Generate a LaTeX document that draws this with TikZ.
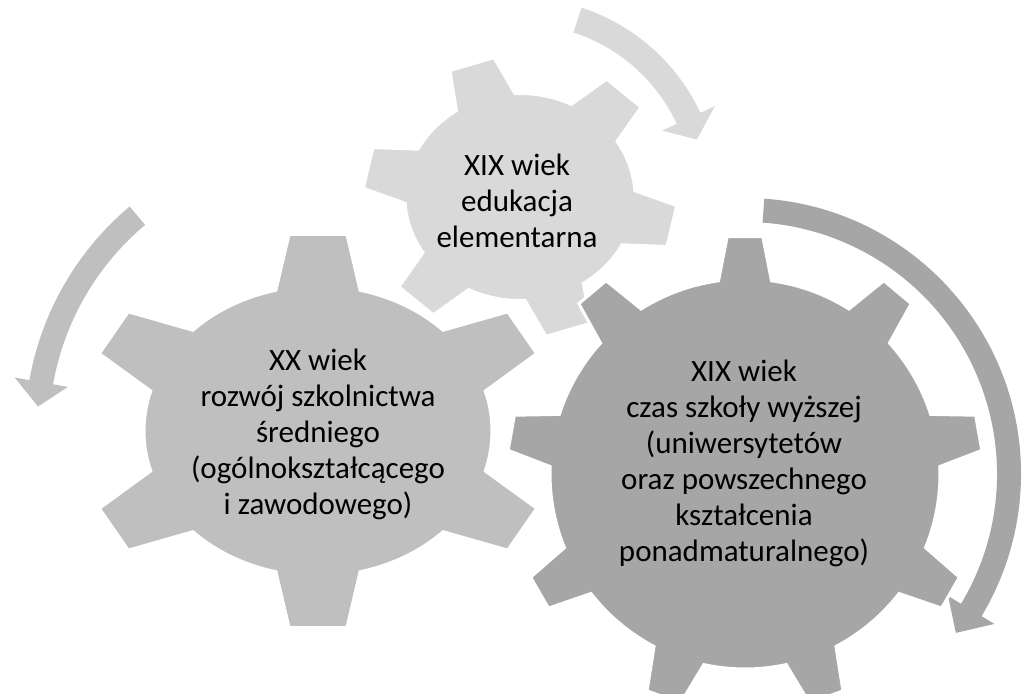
\documentclass[tikz,border=0pt]{standalone}
\usepackage{fontspec}
\setmainfont{Carlito}
\usetikzlibrary{positioning}
\definecolor{gearlight}{HTML}{D9D9D9}
\definecolor{gearmid}{HTML}{BFBFBF}
\definecolor{geardark}{HTML}{A6A6A6}
\tikzset{x=1pt, y=1pt, % one unit is one pixel of the picture
gear/.style={draw=white, line width=3pt, line join=miter}, % white rim round each gear
geartext/.style={align=center, font=\fontsize{31}{36}\selectfont}, % text inside a gear
}

% teeth, tip radius, root radius, first tooth angle, half tip angle, half base angle, style
\newcommand{\drawgear}[7]{
  \filldraw[#7] (#4-#6:#3) foreach \k [evaluate=\k as \t using #4+(\k-1)*360/#1] in {1,...,#1} {
    -- (\t-#6:#3) -- (\t-#5:#2) -- (\t+#5:#2) -- (\t+#6:#3)
    arc[start angle=\t+#6, end angle=\t+360/#1-#6, radius=#3]
  } -- cycle;
}
% centre, mid radius, half width, start angle, head angle, tip angle, head half width, colour
\newcommand{\ringarrow}[8]{
  \fill[#8, shift={#1}] (#4:#2+#3) arc[start angle=#4, end angle=#5, radius=#2+#3]
    -- (#5:#2+#7) -- (#6:#2) -- (#5:#2-#7) -- (#5:#2-#3)
    arc[start angle=#5, end angle=#4, radius=#2-#3] -- cycle;
}

\begin{document}
\begin{tikzpicture}
  \useasboundingbox[fill=white] (0,0) rectangle (1027,693);

  \coordinate (c1) at (520,496);
  \coordinate (c2) at (318,262);
  \coordinate (c3) at (745,219);

  % arrows
  \ringarrow{(c1)}{186}{13}{72}{25}{18}{29}{gearlight}
  \ringarrow{(c2)}{281}{12}{130}{170}{175}{27}{gearmid}
  \ringarrow{(c3)}{264}{12}{86}{-31}{-37}{27}{geardark}

  % gears
  \begin{scope}[shift={(c1)}, yscale=0.9]
    \drawgear{6}{157}{115}{108}{8.5}{15.5}{gear, fill=gearlight}
  \end{scope}
  \begin{scope}[shift={(c2)}, xscale=1.2]
    \drawgear{6}{198}{145}{90}{7}{14}{gear, fill=gearmid}
  \end{scope}
  \begin{scope}[shift={(c3)}]
    \drawgear{9}{238}{195}{90}{4.3}{7.8}{gear, fill=geardark}
  \end{scope}

  \node[geartext] (elem) at (517,492) {XIX wiek\\edukacja\\elementarna};
  \node[geartext] (sred) at (318,259) {XX wiek\\rozwój szkolnictwa\\średniego\\(ogólnokształcącego\\i zawodowego)};
  \node[geartext] (wyzsz) at (744,230) {XIX wiek\\czas szkoły wyższej\\(uniwersytetów\\oraz powszechnego\\kształcenia\\ponadmaturalnego)};
\end{tikzpicture}
\end{document}
